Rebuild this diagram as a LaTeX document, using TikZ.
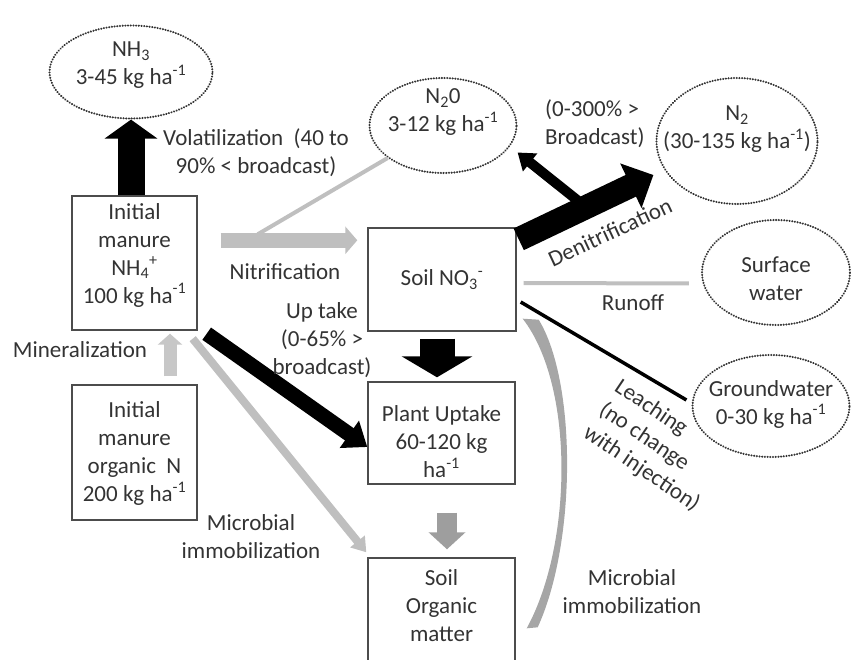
\documentclass[tikz,border=0pt]{standalone}
\usepackage{fontspec}
\setmainfont{Carlito}
\usetikzlibrary{positioning, arrows.meta, calc, shapes.geometric}

\begin{document}
\begin{tikzpicture}[x=1pt, y=-1pt,
    txt/.style={text=black!80, font=\fontsize{23}{28}\selectfont, align=center, inner sep=0pt},
    pool/.style={draw=black!70, line width=1.4pt},
    gas/.style={ellipse, draw=black!80, line width=2.2pt, line cap=round, dash pattern=on 0.1pt off 2.6pt},
    flow/.style n args={3}{line width=#1, -{Triangle[width=#2, length=#3]}}]

    \useasboundingbox (0,0) rectangle (851,660);

    % Nitrogen pools (boxes)
    \node[pool, minimum width=125pt, minimum height=134pt, label={[txt,yshift=8pt]center:{Initial\\manure\\NH\textsubscript{4}\textsuperscript{+}\\100 kg ha\textsuperscript{-1}}}] (nhfour) at (134.5,263) {};
    \node[pool, minimum width=125pt, minimum height=135pt, label={[txt,yshift=-1pt]center:{Initial\\manure\\organic~ N\\200 kg ha\textsuperscript{-1}}}] (orgn) at (134.5,452.5) {};
    \node[pool, minimum width=148pt, minimum height=103pt, label={[txt]center:{Soil NO\textsubscript{3}\textsuperscript{-}}}] (soilno) at (442,279.5) {};
    \node[pool, minimum width=147pt, minimum height=102pt, label={[txt,yshift=-9pt]center:{Plant Uptake\\60-120 kg\\ha\textsuperscript{-1}}}] (plant) at (441.5,433) {};
    \node[pool, minimum width=147pt, minimum height=104pt, label={[txt,yshift=4pt]center:{Soil\\Organic\\matter}}] (som) at (441.5,610) {};

    % Losses (dotted ellipses)
    \node[gas, minimum width=163pt, minimum height=93pt, label={[txt,yshift=7pt]center:{NH\textsubscript{3}\\3-45 kg ha\textsuperscript{-1}}}] (nhthree) at (131,72) {};
    \node[gas, minimum width=147pt, minimum height=95pt, label={[txt,yshift=13pt]center:{N\textsubscript{2}0\\3-12 kg ha\textsuperscript{-1}}}] (ntwoo) at (443,125.5) {};
    \node[gas, minimum width=161pt, minimum height=126pt, label={[txt,yshift=12pt]center:{N\textsubscript{2}\\(30-135 kg ha\textsuperscript{-1})}}] (ntwo) at (737,141) {};
    \node[gas, minimum width=148pt, minimum height=105pt, label={[txt,yshift=-6pt]center:{Surface\\water}}] (surf) at (776,272.5) {};
    \node[gas, minimum width=157pt, minimum height=102pt, label={[txt,yshift=2pt]center:{Groundwater\\0-30 kg ha\textsuperscript{-1}}}] (ground) at (771,406) {};

    % Volatilization
    \draw[flow={27pt}{52pt}{19pt}] (nhthree.south |- nhfour.north) -- (nhthree.south);

    % Nitrification (and N2O branch)
    \coordinate (nitA) at ($(nhfour.north east)+(23,45)$);
    \draw[black!25, flow={15pt}{27pt}{12pt}] (nitA) -- ($(nitA -| soilno.west)+(-10,0)$);
    \draw[black!25, line width=4pt] ($(nitA)+(37,-6)$) -- (ntwoo);

    % Uptake and immobilization from NH4
    \draw[flow={15pt}{32pt}{22pt}] ($(nhfour.south east)+(9,3)$) -- ($(plant.west)+(0,14)$);
    \draw[black!25, flow={8pt}{18pt}{14pt}] ($(nhfour.south east)+(-5,8)$) -- ($(som.north west)+(-1,-5)$);

    % Mineralization
    \draw[black!22, flow={13pt}{24pt}{11pt}] ($(orgn.north)+(35.5,-8)$) -- ($(nhfour.south)+(35.5,3)$);

    % NO3 -> plant -> organic matter
    \draw[flow={35pt}{70pt}{21pt}] ($(soilno.south)+(-5,7)$) -- ($(plant.north)+(-4.5,-4)$);
    \draw[black!38, flow={20pt}{36pt}{17pt}] ($(plant.south)+(5.5,28)$) -- ($(som.north)+(5.5,-8)$);

    % Denitrification
    \coordinate (denA) at ($(soilno.north east)+(2,12)$);
    \coordinate (denB) at ($(ntwo.west)+(-2,34)$);
    \draw[flow={10pt}{22pt}{16pt}] ($(denA)!0.5!(denB)$) -- ($(ntwoo.east)+(0,27)$);
    \draw[flow={24pt}{48pt}{25pt}] (denA) -- (denB);

    % Runoff and leaching
    \draw[black!25, line width=4pt] ($(soilno.east)+(7,3.5)$) -- ($(surf.west)+(-12,11)$);
    \draw[line width=3.5pt] ($(soilno.east)+(4,22.5)$) -- ($(ground.west)+(-5,-6)$);

    % Microbial immobilization back to NO3 (curved band)
    \coordinate (crA) at ($(soilno.south east)+(6,-13)$);
    \coordinate (crD) at ($(soilno.south east)+(22,-12)$);
    \coordinate (crB) at ($(som.north east)+(11,71)$);
    \coordinate (crC) at ($(som.north east)+(22,70)$);
    \fill[black!35] (crA) .. controls +(52,67) and +(46,-84) .. (crB) -- (crC) .. controls +(39,-85) and +(38,62) .. (crD) -- cycle;

    % Process labels
    \node[txt] (vollab) at (256,153) {Volatilization~ (40 to\\90\% < broadcast)};
    \node[txt] (nitlab) at (285,272) {Nitrification};
    \node[txt] (uplab) at (322,340) {Up take\\(0-65\% >\\broadcast)};
    \node[txt] (minlab) at (80,350) {Mineralization};
    \node[txt] (micalab) at (251,537) {Microbial\\immobilization};
    \node[txt, align=left, anchor=west] (bclab) at (545,124) {(0-300\% >\\Broadcast)};
    \node[txt, rotate=25] (denlab) at (610,232) {Denitrification};
    \node[txt] (runlab) at (633,303) {Runoff};
    \node[txt, align=left, rotate=-34] (leachlab) at (657,446) {Leaching\\(no change\\with injection)};
    \node[txt] (micblab) at (632,592) {Microbial\\immobilization};
\end{tikzpicture}
\end{document}
